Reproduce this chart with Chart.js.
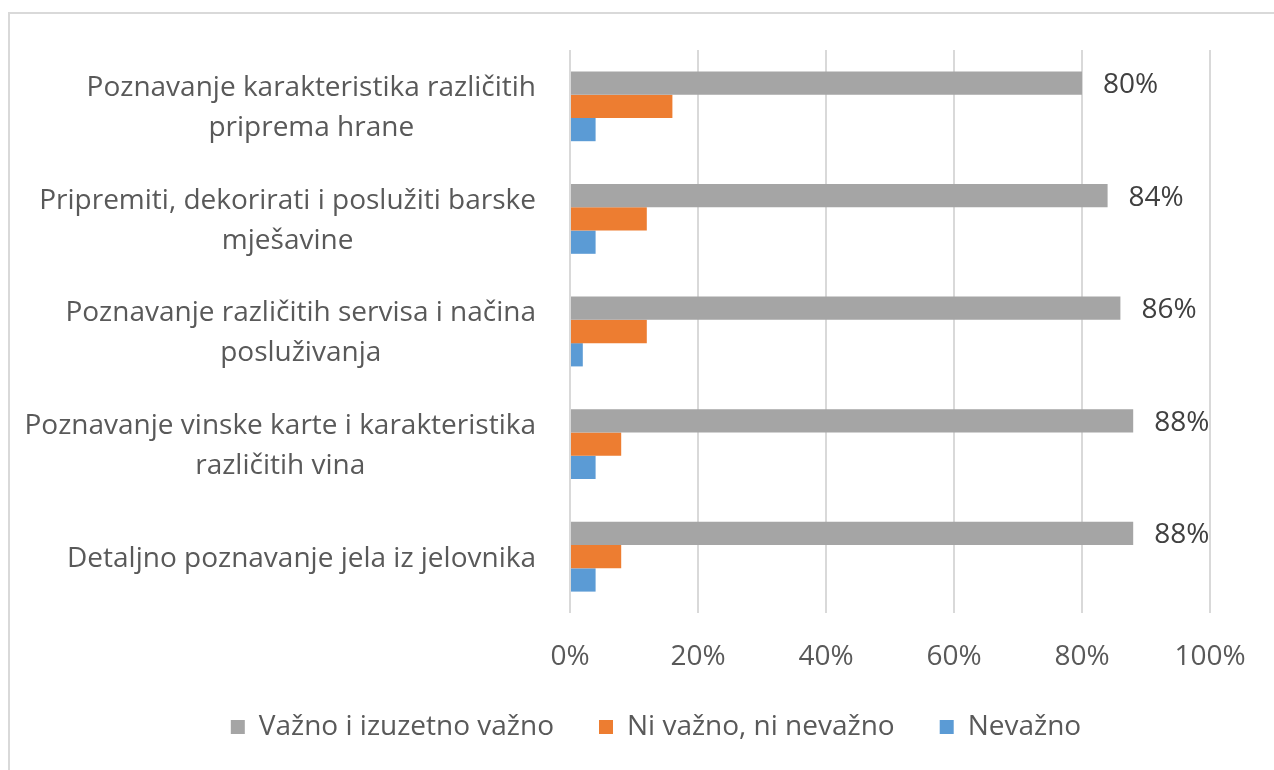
<!DOCTYPE html>
<html>
<head>
<meta charset="utf-8">
<script src="https://cdn.jsdelivr.net/npm/chart.js@4"></script>
<style>
body { margin: 0; background: #fff; overflow: hidden; }
#frame { position: absolute; left: 8px; top: 12px; width: 1300px; height: 800px;
         border-top: 2px solid #d9d9d9; border-left: 2px solid #d9d9d9; }
#wrap { position: absolute; left: 0; top: 0; width: 1274px; height: 770px; }
</style>
</head>
<body>
<div id="frame"></div>
<div id="wrap"><canvas id="canvas"></canvas></div>
<script>
var categories = [
    ["Poznavanje karakteristika različitih", "priprema hrane"],
    ["Pripremiti, dekorirati i poslužiti barske", "mješavine"],
    ["Poznavanje različitih servisa i načina", "posluživanja"],
    ["Poznavanje vinske karte i karakteristika", "različitih vina"],
    "Detaljno poznavanje jela iz jelovnika"
];
var seriesNames = ["Važno i izuzetno važno", "Ni važno, ni nevažno", "Nevažno"];
var important = [80, 84, 86, 88, 88];
var neutral = [16, 12, 12, 8, 8];
var unimportant = [4, 4, 2, 4, 4];
var xTicks = [0, 20, 40, 60, 80, 100];

var textColor = '#595959';
var fontFamily = "'Open Sans', sans-serif";
var fontSize = 28;
var lineSpacing = 40;
Chart.defaults.font.family = fontFamily;
Chart.defaults.color = textColor;

// value labels to the right of the grey bars
var barLabels = {
    id: 'barLabels',
    afterDatasetsDraw: function(chart) {
        var ctx = chart.ctx;
        var meta = chart.getDatasetMeta(0);
        ctx.save();
        ctx.font = fontSize + 'px ' + fontFamily;
        ctx.fillStyle = '#404040';
        ctx.textAlign = 'left';
        ctx.textBaseline = 'middle';
        meta.data.forEach(function(bar, i) {
            ctx.fillText(important[i] + '%', bar.x + 21, bar.y + 2);
        });
        ctx.restore();
    }
};

// category labels: right aligned as a block, lines centred inside the block (like Excel)
var yLabels = {
    id: 'yLabels',
    afterDraw: function(chart) {
        var ctx = chart.ctx;
        var yScale = chart.scales.y;
        ctx.save();
        ctx.font = fontSize + 'px ' + fontFamily;
        ctx.fillStyle = textColor;
        ctx.textAlign = 'center';
        ctx.textBaseline = 'middle';
        categories.forEach(function(label, i) {
            var lines = [].concat(label);
            var w = Math.max.apply(null, lines.map(function(s) { return ctx.measureText(s).width; }));
            var cx = yScale.right - 34 - w / 2;
            var cy = yScale.getPixelForTick(i) + 2;
            lines.forEach(function(s, j) {
                ctx.fillText(s, cx, cy + (j - (lines.length - 1) / 2) * lineSpacing);
            });
        });
        ctx.restore();
    }
};

// nudge the legend so it sits where the original has it
var legendShift = {
    id: 'legendShift',
    afterLayout: function(chart) {
        chart.legend.left += 51;
        chart.legend.right += 51;
    }
};

var config = {
    type: 'bar',
    data: {
        labels: categories,
        datasets: [
            { label: seriesNames[0], data: important, backgroundColor: '#a5a5a5' },
            { label: seriesNames[1], data: neutral, backgroundColor: '#ed7d31' },
            { label: seriesNames[2], data: unimportant, backgroundColor: '#5b9bd5' }
        ]
    },
    options: {
        indexAxis: 'y',
        responsive: true,
        maintainAspectRatio: false,
        animation: false,
        categoryPercentage: 0.62,
        barPercentage: 1,
        layout: { padding: { left: 0, right: 64, top: 50, bottom: 19 } },
        scales: {
            x: {
                min: 0,
                max: 100,
                afterBuildTicks: function(scale) {
                    scale.ticks = xTicks.map(function(v) { return { value: v }; });
                },
                afterFit: function(scale) { scale.height = 55; },
                ticks: {
                    padding: 27,
                    font: { size: fontSize },
                    color: textColor,
                    callback: function(v) { return v + '%'; }
                },
                grid: { color: '#d9d9d9', lineWidth: 2, drawTicks: false },
                border: { display: false }
            },
            y: {
                afterFit: function(scale) { scale.width = 570; },
                ticks: { display: false },
                grid: { display: false, drawTicks: false },
                border: { display: false }
            }
        },
        plugins: {
            legend: {
                position: 'bottom',
                labels: {
                    boxWidth: 14,
                    boxHeight: 14,
                    padding: 45,
                    color: textColor,
                    font: { size: fontSize }
                }
            },
            tooltip: { enabled: false }
        }
    },
    plugins: [barLabels, yLabels, legendShift]
};

window.onload = function() {
    var ctx = document.getElementById("canvas").getContext("2d");
    window.myBar = new Chart(ctx, config);
};
</script>
</body>
</html>
